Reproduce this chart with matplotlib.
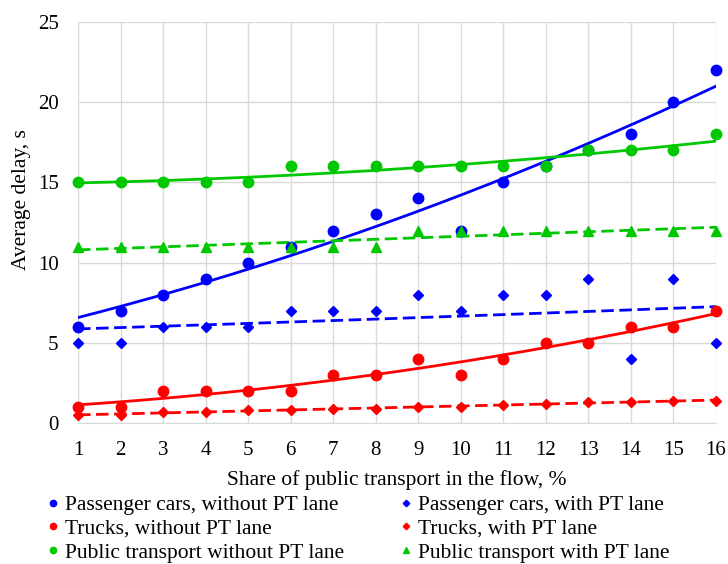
import numpy as np
import matplotlib
matplotlib.use('Agg')
import matplotlib.pyplot as plt

plt.rcParams['font.family'] = ['Liberation Serif', 'DejaVu Serif']
plt.rcParams['font.size'] = 15

share = np.arange(1, 17)

# средняя задержка, с
cars_no_lane = [6, 7, 8, 9, 10, 11, 12, 13, 14, 12, 15, 16, 17, 18, 20, 22]
cars_lane = [5, 5, 6, 6, 6, 7, 7, 7, 8, 7, 8, 8, 9, 4, 9, 5]
trucks_no_lane = [1, 1, 2, 2, 2, 2, 3, 3, 4, 3, 4, 5, 5, 6, 6, 7]
trucks_lane = [0.5, 0.5, 0.7, 0.7, 0.8, 0.8, 0.9, 0.9, 1.0, 1.0, 1.1, 1.2, 1.3, 1.3, 1.4, 1.4]
pt_no_lane = [15, 15, 15, 15, 15, 16, 16, 16, 16, 16, 16, 16, 17, 17, 17, 18]
pt_lane = [11, 11, 11, 11, 11, 11, 11, 11, 12, 12, 12, 12, 12, 12, 12, 12]

blue = '#0000FF'
red = '#FF0000'
green = '#00C800'

# (данные, цвет, маркер, размер, стиль линии, тип тренда, подпись)
series = [
    (cars_no_lane, blue, 'o', 7.5, '-', 'poly', 'Passenger cars, without PT lane'),
    (trucks_no_lane, red, 'o', 7.5, '-', 'poly', 'Trucks, without PT lane'),
    (pt_no_lane, green, 'o', 7.5, '-', 'poly', 'Public transport without PT lane'),
    (cars_lane, blue, 'D', 5.5, '--', 'exp', 'Passenger cars, with PT lane'),
    (trucks_lane, red, 'D', 5.5, '--', 'poly', 'Trucks, with PT lane'),
    (pt_lane, green, '^', 7.5, '--', 'poly', 'Public transport with PT lane'),
]


def trend(x, y, kind):
    # линии тренда, как в Excel
    xs = np.linspace(x.min(), x.max(), 200)
    if kind == 'exp':
        b, a = np.polyfit(x, np.log(y), 1)
        return xs, np.exp(a + b * xs)
    c = np.polyfit(x, y, 2)
    return xs, np.polyval(c, xs)


fig = plt.figure(figsize=(7.28, 5.64), dpi=100)
ax = fig.add_axes([78 / 728, 141 / 564, 638 / 728, 401 / 564])

handles = []
for vals, col, mk, ms, ls, kind, lab in series:
    y = np.array(vals, dtype=float)
    xs, ys = trend(share, y, kind)
    if ls == '--':
        ax.plot(xs, ys, color=col, lw=2, dashes=(4.5, 2), zorder=2)
    else:
        ax.plot(xs, ys, color=col, lw=2, zorder=2)
    h, = ax.plot(share, y, ls='none', marker=mk, ms=ms, color=col, label=lab, zorder=3, clip_on=False)
    handles.append(h)

ax.set_xlim(1, 16)
ax.set_ylim(0, 25)
ax.set_xticks(share)
ax.set_yticks(range(0, 26, 5))
ax.grid(True, color='#D9D9D9', lw=1)
ax.set_axisbelow(True)
for s in ax.spines.values():
    s.set_visible(False)
ax.spines['bottom'].set_visible(True)
ax.spines['bottom'].set_color('#D9D9D9')
ax.tick_params(axis='x', length=0, pad=13)
ax.tick_params(axis='y', length=0, pad=14)

ax.set_xlabel('Share of public transport in the flow, %', fontsize=15.5, labelpad=7)
ax.set_ylabel('Average delay, s', fontsize=15.5)
ax.yaxis.set_label_coords((31 - 78) / 638, (423 - 200) / 401)

fig.legend(handles=handles, loc='upper left', bbox_to_anchor=(47.5 / 728, 1 - 495 / 564),
           ncol=2, frameon=False, fontsize=15.5, markerscale=0.6, handlelength=0.5,
           handletextpad=0.3, columnspacing=2.66, labelspacing=0.17, borderpad=0,
           borderaxespad=0)

fig.savefig('out.png', dpi=100)
